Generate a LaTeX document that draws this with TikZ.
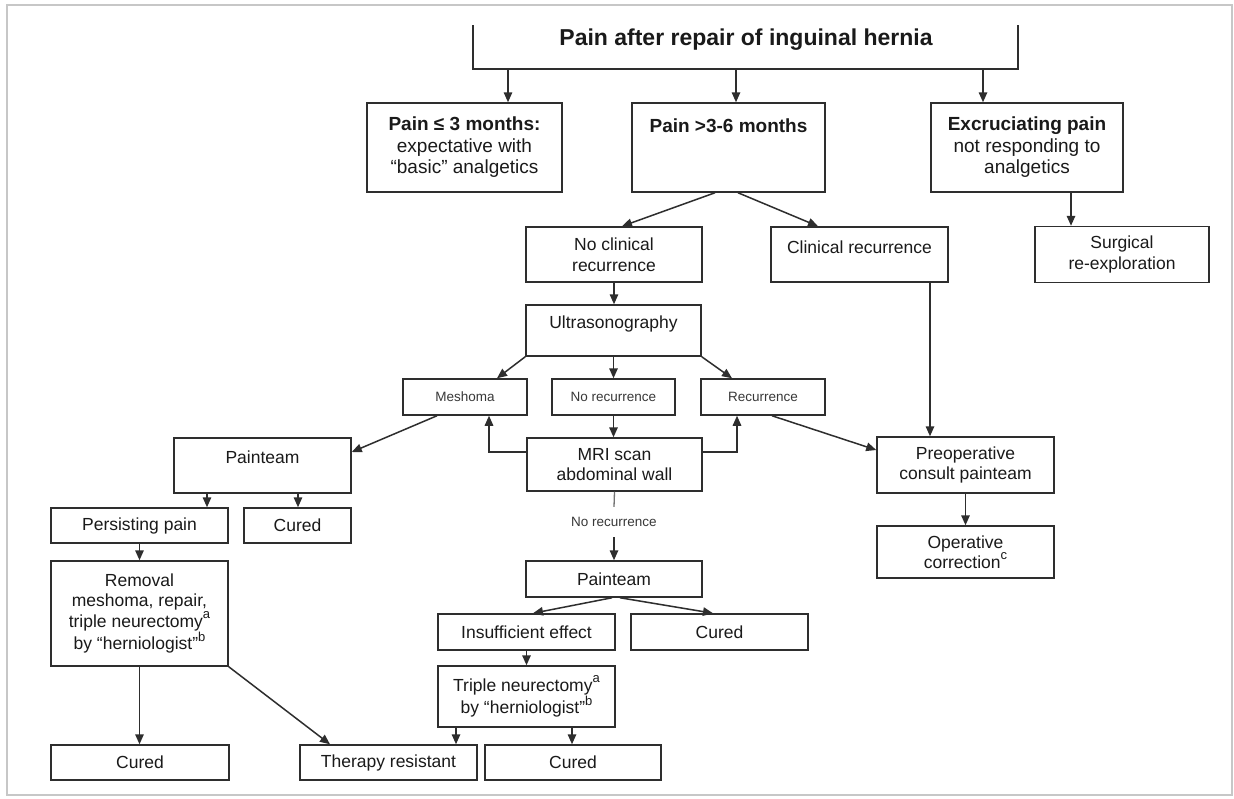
\documentclass[tikz,border=0pt]{standalone}
\usepackage{fontspec}
\setmainfont{Liberation Sans}
\usetikzlibrary{arrows.meta}
\definecolor{lc}{HTML}{2E2E2E}
\definecolor{tc}{HTML}{1A1A1A}
\definecolor{sc}{HTML}{383838}
\newcommand\fbig{\fontsize{19}{21.5}\selectfont}
\newcommand\fmid{\fontsize{17.5}{20.5}\selectfont}
\newcommand\fsml{\fontsize{13.5}{16}\selectfont}
\newcommand\ftit{\fontsize{23}{27}\selectfont\bfseries}
\newcommand\supx[1]{\raisebox{0.5em}{\fontsize{13}{13}\selectfont #1}}
\begin{document}
\begin{tikzpicture}[x=1pt,y=-1pt,
  box/.style={draw=lc, line width=1.5pt, inner sep=0pt, align=center, text=tc, font=\fmid},
  bigbox/.style={box, font=\fbig},
  smallbox/.style={box, font=\fsml, text=sc},
  txt/.style={inner sep=0pt, align=center, text=tc, font=\fmid},
  ln/.style={draw=lc, line width=1.5pt},
  arr/.style={draw=lc, line width=1.5pt, -{Triangle[length=10pt,width=8.5pt]}}
]
\useasboundingbox (0,0) rectangle (1234,798);
\fill[white] (0,0) rectangle (1234,798);
\draw[black!22, line width=2.5pt] (7,5) rectangle (1232,795);

% title
\node[txt, font=\ftit] (title) at (746,40) {Pain after repair of inguinal hernia};
\coordinate (titleL) at (473,25);
\coordinate (titleR) at (1018,25);
\coordinate (barY) at (0,69);
\draw[ln] (titleL) -- ++(0,44) -| (titleR);

% first level
\node[bigbox, minimum width=195pt, minimum height=89pt] (b1) at (464.5,147.5)
  {\textbf{Pain ≤ 3 months:}\\expectative with\\“basic” analgetics};
\node[bigbox, minimum width=193pt, minimum height=89pt] (b2) at (728.5,147.5) {};
\node[txt, font=\fbig\bfseries] (b2t) at (728.5,126) {Pain >3-6 months};
\node[bigbox, minimum width=192pt, minimum height=89pt] (b3) at (1027,147.5)
  {\textbf{Excruciating pain}\\not responding to\\analgetics};

\draw[arr] ([xshift=43.5pt]b1.north |- barY) -- ([xshift=43.5pt]b1.north);
\draw[arr] ([xshift=7.5pt]b2.north |- barY) -- ([xshift=7.5pt]b2.north);
\draw[arr] ([xshift=-44pt]b3.north |- barY) -- ([xshift=-44pt]b3.north);

% second level
\node[box, minimum width=174pt, minimum height=56pt] (surg) at (1122,254.5) {Surgical\\re-exploration};
\node[box, minimum width=176pt, minimum height=55pt] (ncr) at (614,254.5) {No clinical\\recurrence};
\node[box, minimum width=177pt, minimum height=55pt] (cr) at (859.5,254.5) {};
\node[txt] (crt) at (859.5,247) {Clinical recurrence};

\draw[arr] ([xshift=44pt]b3.south) -- ([xshift=44pt]b3.south |- surg.north);
\draw[arr] ([xshift=-13.5pt]b2.south) -- ([xshift=8pt]ncr.north);
\draw[arr] ([xshift=9.5pt]b2.south) -- ([xshift=-41.5pt]cr.north);

% ultrasonography
\node[box, minimum width=175pt, minimum height=51pt] (us) at (613.5,330.5) {};
\node[txt] (ust) at (613.5,324) {Ultrasonography};
\draw[arr] (ncr.south) -- (ncr.south |- us.north);

\node[smallbox, minimum width=124pt, minimum height=36pt] (mesh) at (465,397) {Meshoma};
\node[smallbox, minimum width=123pt, minimum height=36pt] (norec) at (613.5,397) {No recurrence};
\node[smallbox, minimum width=124pt, minimum height=36pt] (rec) at (763,397) {Recurrence};

\draw[arr] (us.south west) -- ([xshift=32pt]mesh.north);
\draw[arr] (us.south) -- (norec.north);
\draw[arr] (us.south east) -- ([xshift=-31pt]rec.north);

% MRI
\node[box, minimum width=175pt, minimum height=53pt] (mri) at (614.5,464.5) {MRI scan\\abdominal wall};
\draw[arr] (norec.south) -- (norec.south |- mri.north);
\draw[arr] ([yshift=12.5pt]mri.west) -| ([xshift=24pt]mesh.south);
\draw[arr] ([yshift=12.5pt]mri.east) -| ([xshift=-26pt]rec.south);

% left branch
\node[box, minimum width=177pt, minimum height=55pt] (pt1) at (262.5,465.5) {};
\node[txt] (pt1t) at (262.5,457) {Painteam};
\draw[arr] ([xshift=-28pt]mesh.south) -- ([yshift=13.5pt]pt1.east);

\node[box, minimum width=177pt, minimum height=35pt] (pp) at (139.5,525.5) {Persisting pain};
\node[box, minimum width=107pt, minimum height=35pt] (cu1) at (297.5,525.5) {Cured};
\draw[arr] ([xshift=-55.5pt]pt1.south) -- ([xshift=-55.5pt]pt1.south |- pp.north);
\draw[arr] ([xshift=35.5pt]pt1.south) -- ([xshift=35.5pt]pt1.south |- cu1.north);

\node[box, minimum width=177pt, minimum height=105pt] (rem) at (139.5,613.5)
  {Removal\\meshoma, repair,\\triple neurectomy\supx{a}\\by “herniologist”\supx{b}};
\draw[arr] (pp.south) -- (pp.south |- rem.north);

\node[box, minimum width=178pt, minimum height=35pt] (cu2) at (140,762.5) {Cured};
\node[box, minimum width=177pt, minimum height=35pt] (tr) at (388.5,762.5) {Therapy resistant};
\draw[arr] (rem.south) -- (rem.south |- cu2.north);
\draw[arr] (rem.south east) -- ([xshift=-58.5pt]tr.north);

% right branch
\node[box, minimum width=177pt, minimum height=56pt] (preop) at (965.5,465) {Preoperative\\consult painteam};
\node[box, minimum width=177pt, minimum height=52pt] (opc) at (965.5,552) {Operative\\correction\supx{c}};
\draw[arr] ([xshift=9pt]rec.south) -- ([yshift=15pt]preop.west);
\draw[arr] ([xshift=70.5pt]cr.south) -- ([xshift=70.5pt]cr.south |- preop.north);
\draw[arr] (preop.south) -- (opc.north);

% middle branch
\node[inner sep=0pt, minimum height=30pt, font=\fsml, text=sc] (nrl) at (614,522) {No recurrence};
\node[box, minimum width=176pt, minimum height=36pt] (pt2) at (614,579) {Painteam};
\draw[draw=black!55, line width=1.3pt] (mri.south) -- (nrl.north);
\draw[arr] (nrl.south) -- (pt2.north);

\node[box, minimum width=177pt, minimum height=36pt] (ie) at (526.5,632) {Insufficient effect};
\node[box, minimum width=177pt, minimum height=36pt] (cu3) at (719.5,632) {Cured};
\draw[arr] ([xshift=-2pt]pt2.south) -- ([xshift=6.5pt]ie.north);
\draw[arr] ([xshift=6pt]pt2.south) -- ([xshift=-6.5pt]cu3.north);

\node[box, minimum width=177pt, minimum height=61pt] (tn) at (526.5,696.5)
  {Triple neurectomy\supx{a}\\by “herniologist”\supx{b}};
\draw[arr] (ie.south) -- (tn.north);

\node[box, minimum width=176pt, minimum height=35pt] (cu4) at (573,762.5) {Cured};
\draw[arr] ([xshift=-70.5pt]tn.south) -- ([xshift=-70.5pt]tn.south |- tr.north);
\draw[arr] ([xshift=45.5pt]tn.south) -- ([xshift=45.5pt]tn.south |- cu4.north);
\end{tikzpicture}
\end{document}
